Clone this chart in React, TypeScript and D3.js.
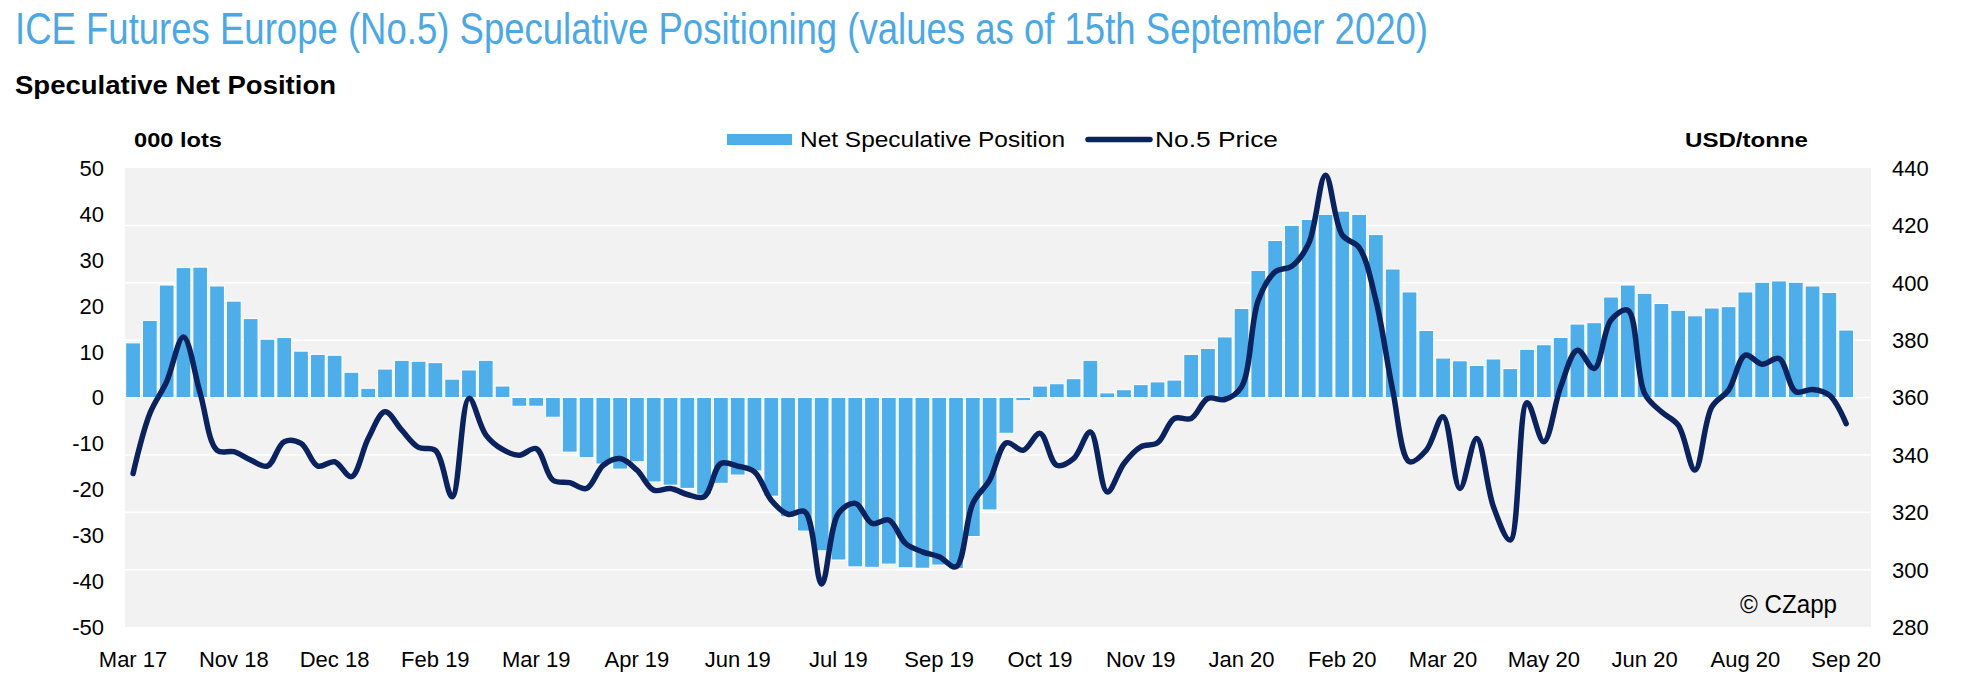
import React from "react";
import * as d3 from "d3";

// ---- Data (weekly) ----
const netPosition: number[] = [
  11.9, 16.8, 24.5, 28.3, 28.4, 24.3, 21.0, 17.2, 12.7, 13.1,
  10.1, 9.4, 9.2, 5.5, 2.0, 6.2, 8.1, 7.9, 7.6, 4.0,
  6.0, 8.1, 2.5, -1.9, -1.9, -4.3, -11.9, -13.1, -14.5, -15.6,
  -14.0, -18.4, -19.1, -19.8, -21.1, -18.7, -16.9, -16.0, -21.5, -26.0,
  -29.1, -33.4, -35.4, -36.9, -37.0, -36.3, -37.1, -37.2, -36.5, -37.3,
  -30.3, -24.5, -7.8, -0.7, 2.5, 3.0, 4.1, 8.1, 1.0, 1.7,
  2.8, 3.4, 3.8, 9.4, 10.7, 13.2, 19.4, 27.7, 34.2, 37.5,
  38.8, 39.9, 40.6, 39.9, 35.5, 28.0, 23.0, 14.6, 8.6, 8.0,
  7.0, 8.4, 6.3, 10.5, 11.5, 13.1, 16.0, 16.3, 21.9, 24.5,
  22.7, 20.5, 19.0, 17.8, 19.5, 19.8, 23.0, 25.1, 25.4, 25.1,
  24.3, 22.9, 14.7,
];

const price: number[] = [
  333.5, 354.4, 365.5, 381.1, 361.4, 341.6, 341.1, 338.2, 336.1, 344.6,
  344.0, 336.1, 337.6, 332.4, 345.7, 355.0, 348.6, 342.6, 341.6, 325.4,
  359.7, 347.0, 341.9, 339.9, 342.2, 331.2, 330.3, 328.3, 336.4, 338.7,
  334.7, 327.7, 328.3, 326.2, 325.4, 337.0, 336.1, 334.1, 324.2, 319.3,
  320.2, 295.0, 319.6, 323.1, 316.1, 317.3, 309.1, 306.2, 304.5, 301.0,
  323.1, 331.2, 344.2, 341.6, 347.5, 336.4, 338.7, 348.0, 327.1, 337.0,
  342.8, 344.2, 352.7, 352.7, 359.7, 359.3, 363.7, 393.9, 403.8, 405.8,
  413.7, 437.5, 416.6, 412.3, 393.9, 362.6, 337.6, 341.6, 353.3, 328.3,
  345.7, 321.9, 310.3, 358.2, 344.6, 363.7, 376.5, 370.1, 387.0, 390.4,
  361.4, 355.0, 350.4, 334.7, 356.7, 362.6, 374.8, 371.6, 373.6, 362.0,
  362.8, 360.8, 350.9,
];

const tickLabels: string[] = [
  "Mar 17", "Nov 18", "Dec 18", "Feb 19", "Mar 19", "Apr 19", "Jun 19", "Jul 19", "Sep 19",
  "Oct 19", "Nov 19", "Jan 20", "Feb 20", "Mar 20", "May 20", "Jun 20", "Aug 20", "Sep 20",
];
const tickEvery = 6;

const title = "ICE Futures Europe (No.5) Speculative Positioning (values as of 15th September 2020)";
const subtitle = "Speculative Net Position";
const leftUnit = "000 lots";
const rightUnit = "USD/tonne";
const seriesNames = ["Net Speculative Position", "No.5 Price"];
const credit = "© CZapp";

// ---- Layout / style ----
const W = 1964;
const H = 696;
const L = 125, R = 1871, T = 168, B = 627;
const BAR = "#4EAEEA";
const LINE = "#0A235E";
const TITLE = "#4BA8E4";
const FONT = "'Liberation Sans Narrow', 'Arial Narrow', 'Liberation Sans', Arial, sans-serif";

export default function App() {
  // one spare slot at the right end of the category axis
  const x = d3.scaleBand<number>()
    .domain(d3.range(netPosition.length + 1))
    .range([L, R])
    .paddingInner(0.12)
    .paddingOuter(0.04);
  const yL = d3.scaleLinear().domain([-50, 50]).range([B, T]);
  const yR = d3.scaleLinear().domain([280, 440]).range([B, T]);
  const cx = (i: number) => (x(i) as number) + x.bandwidth() / 2;

  const line = d3.line<number>()
    .x((_, i) => cx(i))
    .y((d) => yR(d))
    .curve(d3.curveCatmullRom.alpha(0.5));

  const leftTicks = yL.ticks(10);
  const rightTicks = yR.ticks(8);

  return (
    <svg width={W} height={H} style={{ position: "absolute", left: 0, top: 0, display: "block", background: "#fff" }}
      fontFamily={FONT}>
      <text x={15} y={44} fontSize={45} fill={TITLE} textLength={1413} lengthAdjust="spacingAndGlyphs">{title}</text>
      <text x={15} y={94} fontSize={25} fontWeight="bold" fill="#000" textLength={321} lengthAdjust="spacingAndGlyphs">{subtitle}</text>

      <text x={134} y={147} fontSize={20} fontWeight="bold" fill="#000" textLength={88} lengthAdjust="spacingAndGlyphs">{leftUnit}</text>
      <text x={1685} y={147} fontSize={20} fontWeight="bold" fill="#000" textLength={123} lengthAdjust="spacingAndGlyphs">{rightUnit}</text>

      {/* legend */}
      <rect x={727} y={134} width={65} height={11} fill={BAR} />
      <text x={800} y={147} fontSize={22} fill="#000" textLength={265} lengthAdjust="spacingAndGlyphs">{seriesNames[0]}</text>
      <line x1={1088} x2={1150} y1={139.5} y2={139.5} stroke={LINE} strokeWidth={5.5} strokeLinecap="round" />
      <text x={1155} y={147} fontSize={22} fill="#000" textLength={123} lengthAdjust="spacingAndGlyphs">{seriesNames[1]}</text>

      {/* plot area */}
      <rect x={L} y={T} width={R - L} height={B - T} fill="#F2F2F2" />
      {rightTicks.filter((t) => t > 280 && t < 440).map((t) => (
        <line key={t} x1={L} x2={R} y1={yR(t)} y2={yR(t)} stroke="#fff" strokeWidth={1.5} />
      ))}

      {netPosition.map((v, i) => (
        <rect key={i} x={x(i)} width={x.bandwidth()}
          y={Math.min(yL(v), yL(0))} height={Math.abs(yL(v) - yL(0))}
          fill={BAR} stroke="#fff" strokeWidth={1} />
      ))}

      <path d={line(price) ?? ""} fill="none" stroke={LINE} strokeWidth={5.5}
        strokeLinejoin="round" strokeLinecap="round" />

      {/* left axis */}
      {leftTicks.map((t) => (
        <text key={t} x={104} y={yL(t)} dy="0.36em" textAnchor="end" fontSize={22} fill="#000">{t}</text>
      ))}
      {/* right axis */}
      {rightTicks.map((t) => (
        <text key={t} x={1892} y={yR(t)} dy="0.36em" textAnchor="start" fontSize={22} fill="#000">{t}</text>
      ))}
      {/* x axis */}
      {tickLabels.map((lab, k) => (
        <text key={lab} x={cx(k * tickEvery)} y={667} textAnchor="middle" fontSize={22} fill="#000">{lab}</text>
      ))}

      <text x={1740} y={613} fontSize={26} fill="#000" textLength={97} lengthAdjust="spacingAndGlyphs">{credit}</text>
    </svg>
  );
}
